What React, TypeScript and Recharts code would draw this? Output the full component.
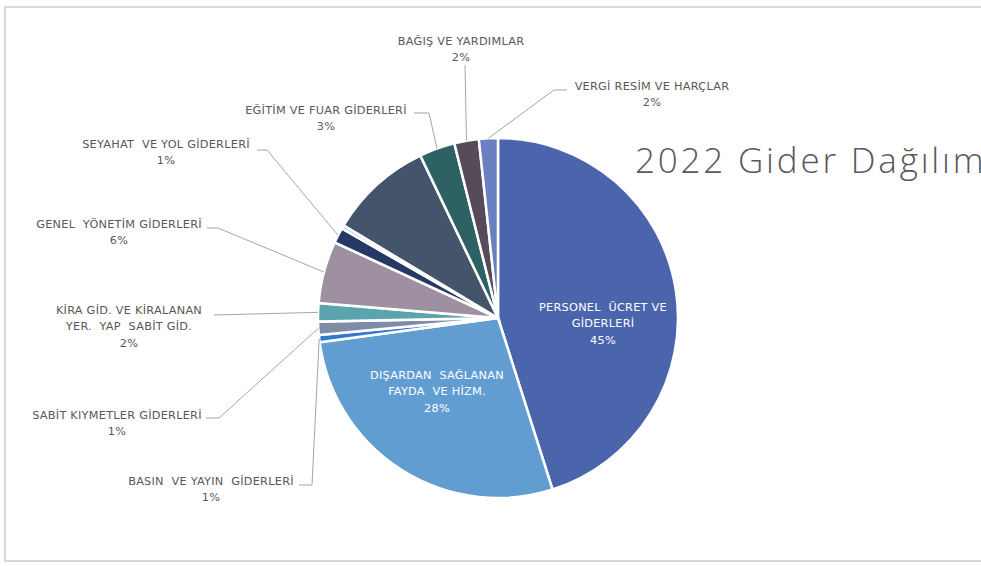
import React from 'react';
import { PieChart, Pie, Cell } from 'recharts';

// categories in clockwise order, starting at 12 o'clock
const categories = [
  'PERSONEL  ÜCRET VE\nGİDERLERİ',
  'DIŞARDAN  SAĞLANAN\nFAYDA  VE HİZM.',
  'BASIN  VE YAYIN  GİDERLERİ',
  'SABİT KIYMETLER GİDERLERİ',
  'KİRA GİD. VE KİRALANAN\nYER.  YAP  SABİT GİD.',
  'GENEL  YÖNETİM GİDERLERİ',
  'SEYAHAT  VE YOL GİDERLERİ',
  'DİĞER',
  'DİĞER GİDERLER',
  'EĞİTİM VE FUAR GİDERLERİ',
  'BAĞIŞ VE YARDIMLAR',
  'VERGİ RESİM VE HARÇLAR',
];

// share of total, percent
const shares = [45.1, 27.75, 0.64, 1.19, 1.64, 5.58, 1.39, 0.31, 9.3, 3.2, 2.2, 1.7];

const colors = [
  '#4A65AC', '#629DD1', '#2F79D3', '#7E8CA8', '#5BA3AD', '#9E8FA1',
  '#263966', '#A9BCE2', '#44546A', '#2E6164', '#574B5A', '#6A80C2',
];

const data = categories.map((name, i) => ({ name, value: shares[i] }));
const total = shares.reduce((a, b) => a + b, 0);

// label placement, offsets from the pie centre
type Place = { x: number; y: number; inside?: boolean; elbow?: [number, number]; end?: [number, number] };
const placement: Record<number, Place> = {
  0: { x: 105, y: -11, inside: true },
  1: { x: -61, y: 57, inside: true },
  2: { x: -287, y: 163, elbow: [-186, 167], end: [-199, 167] },
  3: { x: -381, y: 97, elbow: [-279, 100], end: [-292, 100] },
  4: { x: -369, y: -8, end: [-284, -3] },
  5: { x: -379, y: -94, elbow: [-280, -90], end: [-291, -90] },
  6: { x: -332, y: -174, elbow: [-231, -168], end: [-241, -168] },
  9: { x: -172, y: -208, elbow: [-69, -205], end: [-84, -205] },
  10: { x: -37, y: -277, end: [-33, -253] },
  11: { x: 154, y: -232, elbow: [56, -228], end: [69, -228] },
};

const FONT = '"DejaVu Sans", sans-serif';
const RAD = Math.PI / 180;

const renderLabel = (props: any) => {
  const { cx, cy, midAngle, outerRadius, index, name, value } = props;
  const p = placement[index];
  if (!p) return null;
  const lines = [...String(name).split('\n'), `${Math.round((value / total) * 100)}%`];
  const ax = cx + outerRadius * Math.cos(-midAngle * RAD);
  const ay = cy + outerRadius * Math.sin(-midAngle * RAD);
  const pts: number[][] = [[ax, ay]];
  if (p.elbow) pts.push([cx + p.elbow[0], cy + p.elbow[1]]);
  if (p.end) pts.push([cx + p.end[0], cy + p.end[1]]);
  return (
    <g>
      {!p.inside && (
        <polyline points={pts.map((q) => q.join(',')).join(' ')} fill="none" stroke="#A6A6A6" strokeWidth={1} />
      )}
      {lines.map((t, i) => (
        <text
          key={i}
          x={cx + p.x}
          y={cy + p.y + i * 16.5}
          textAnchor="middle"
          dominantBaseline="central"
          fontFamily={FONT}
          fontSize={11.3}
          letterSpacing={0.25}
          fill={p.inside ? '#FFFFFF' : '#595959'}
          style={{ whiteSpace: 'pre' }}
        >
          {t}
        </text>
      ))}
    </g>
  );
};

export default function App() {
  return (
    <div style={{ position: 'relative', width: 981, height: 566, overflow: 'hidden', background: '#fff' }}>
      <style>{'body{margin:0}'}</style>
      <div style={{ position: 'absolute', left: 0, top: 0 }}>
        <PieChart width={981} height={566} margin={{ top: 0, right: 0, bottom: 0, left: 0 }}>
          <Pie
            data={data}
            dataKey="value"
            nameKey="name"
            cx={498}
            cy={318}
            outerRadius={180}
            startAngle={90}
            endAngle={-270}
            stroke="#FFFFFF"
            strokeWidth={2.5}
            label={renderLabel}
            labelLine={false}
            isAnimationActive={false}
          >
            {data.map((d, i) => (
              <Cell key={d.name} fill={colors[i]} />
            ))}
          </Pie>
        </PieChart>
      </div>
      <div
        style={{
          position: 'absolute', left: 635, top: 137, fontFamily: '"Open Sans", sans-serif',
          fontWeight: 300, fontSize: 35, letterSpacing: 2.8, color: '#595959', whiteSpace: 'nowrap', lineHeight: '46px',
        }}
      >
        2022 Gider Dağılımı
      </div>
      <div
        style={{
          position: 'absolute', left: 4, top: 6, width: 1010, height: 556,
          border: '2px solid #D9D9D9', boxSizing: 'border-box', pointerEvents: 'none', zIndex: 2,
        }}
      />
    </div>
  );
}
